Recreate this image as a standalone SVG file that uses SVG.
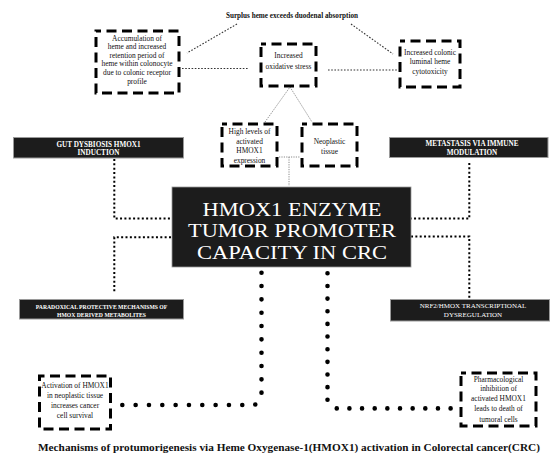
<svg xmlns="http://www.w3.org/2000/svg" width="550" height="453" viewBox="0 0 550 453">
<style>
  text { font-family: "Liberation Serif", "Times New Roman", serif; fill: #111; }
  .bt { font-size: 7.4px; text-anchor: middle; }
  .dash { fill: #fff; stroke: #000; stroke-width: 3; stroke-dasharray: 10 5.5; stroke-dashoffset: 5; }
  .dark { fill: #1c1c1c; stroke: #9a9a9a; stroke-width: 1; }
  .lt { fill: #fff; font-weight: bold; font-size: 7.2px; text-anchor: middle; }
  .main { fill: #fff; font-size: 19.5px; text-anchor: middle; }
  .thin { fill: none; stroke: #333; stroke-width: 1.1; stroke-dasharray: 1.6 1.6; }
  .thin2 { fill: none; stroke: #8a8a8a; stroke-width: 1; stroke-dasharray: 1.2 1.2; }
  .sq { fill: none; stroke: #000; stroke-width: 2; stroke-dasharray: 2 2.35; }
  .big { fill: none; stroke: #000; stroke-width: 4.6; stroke-linecap: round; }
</style>
<rect width="550" height="453" fill="#fff"/>

<g id="connectors">
  <path class="thin" d="M237,24 L187,53"/>
  <path class="thin" d="M182,68.5 H248"/>
  <path class="thin" d="M328,70 H397"/>
  <path class="thin" d="M351,24 L393,54"/>
  <path class="thin2" d="M265,122 L290,87 L312,122"/>
  <path class="thin2" d="M279,157 H300 M289,157 V186"/>
  <path class="sq" d="M114.3,159 V218.5 H171"/>
  <path class="sq" d="M171,237.3 H114.3 V293"/>
  <path class="sq" d="M469.3,163 V218.5 H411"/>
  <path class="sq" d="M411,236.5 H469.3 V298"/>
  <path class="big" stroke-dasharray="0 13.33" d="M261.5,272.7 V392.7 L255,405 H115"/>
  <path class="big" stroke-dasharray="0 12.65" d="M327.5,273.3 V399.8 L336.7,408.4 H452"/>
</g>

<g id="surplus">
  <text x="292" y="17.5" style="font-size:7.2px;font-weight:bold;text-anchor:middle">Surplus heme exceeds duodenal absorption</text>
</g>

<g id="accumulation">
  <rect class="dash" x="96" y="31" width="83" height="62"/>
  <text class="bt" x="137" y="40.8">Accumulation of</text>
  <text class="bt" x="137" y="49.3">heme and increased</text>
  <text class="bt" x="137" y="57.8">retention period of</text>
  <text class="bt" x="137" y="66.3">heme within colonocyte</text>
  <text class="bt" x="137" y="74.8">due to colonic receptor</text>
  <text class="bt" x="137" y="83.6">profile</text>
</g>

<g id="oxidative">
  <rect class="dash" x="261" y="44" width="55" height="42"/>
  <text class="bt" x="288.5" y="57.5">Increased</text>
  <text class="bt" x="288.5" y="68.5">oxidative stress</text>
</g>

<g id="colonic">
  <rect class="dash" x="400" y="41" width="60" height="46"/>
  <text class="bt" x="430" y="54.8">Increased colonic</text>
  <text class="bt" x="430" y="64.3">luminal heme</text>
  <text class="bt" x="430" y="73.8">cytotoxicity</text>
</g>

<g id="high-levels">
  <rect class="dash" x="222" y="124" width="55" height="42"/>
  <text class="bt" x="249.5" y="134.3">High levels of</text>
  <text class="bt" x="249.5" y="144.2">activated</text>
  <text class="bt" x="249.5" y="153.3">HMOX1</text>
  <text class="bt" x="249.5" y="163.2">expression</text>
</g>

<g id="neoplastic">
  <rect class="dash" x="302" y="124" width="55" height="42"/>
  <text class="bt" x="329.5" y="143.5">Neoplastic</text>
  <text class="bt" x="329.5" y="153.5">tissue</text>
</g>

<g id="gut-dysbiosis">
  <rect class="dark" x="13.5" y="137.5" width="170" height="20.5"/>
  <text class="lt" x="98.5" y="146.6">GUT DYSBIOSIS HMOX1</text>
  <text class="lt" x="98.5" y="155.4">INDUCTION</text>
</g>

<g id="metastasis">
  <rect class="dark" x="389.5" y="137.5" width="158.5" height="20"/>
  <text class="lt" x="472" y="146">METASTASIS VIA IMMUNE</text>
  <text class="lt" x="472" y="154.8">MODULATION</text>
</g>

<g id="main">
  <rect x="172" y="187" width="239" height="80" fill="#1c1c1c" stroke="#999" stroke-width="0.8"/>
  <text class="main" x="292" y="215.5" textLength="179" lengthAdjust="spacingAndGlyphs">HMOX1 ENZYME</text>
  <text class="main" x="292" y="237.2" textLength="208" lengthAdjust="spacingAndGlyphs">TUMOR PROMOTER</text>
  <text class="main" x="292" y="258.9" textLength="190" lengthAdjust="spacingAndGlyphs">CAPACITY IN CRC</text>
</g>

<g id="paradoxical">
  <rect class="dark" x="19.5" y="299.5" width="164" height="19.5"/>
  <text class="lt" x="101.5" y="309.2" style="font-size:5.7px">PARADOXICAL PROTECTIVE MECHANISMS OF</text>
  <text class="lt" x="101.5" y="316.6" style="font-size:5.7px">HMOX DERIVED METABOLITES</text>
</g>

<g id="nrf2">
  <rect class="dark" x="390.5" y="299.5" width="159" height="21.5"/>
  <text class="lt" x="473" y="307.8" style="font-weight:normal;font-size:7px">NRF2/HMOX TRANSCRIPTIONAL</text>
  <text class="lt" x="473" y="316.8" style="font-weight:normal;font-size:7px">DYSREGULATION</text>
</g>

<g id="activation">
  <rect class="dash" x="39.5" y="376" width="71" height="53"/>
  <text class="bt" x="75" y="387.5">Activation of HMOX1</text>
  <text class="bt" x="75" y="398">in neoplastic tissue</text>
  <text class="bt" x="75" y="408">increases cancer</text>
  <text class="bt" x="75" y="418.3">cell survival</text>
</g>

<g id="pharmacological">
  <rect class="dash" x="461" y="373" width="75" height="53"/>
  <text class="bt" x="498.5" y="381.5">Pharmacological</text>
  <text class="bt" x="498.5" y="390.8">inhibition of</text>
  <text class="bt" x="498.5" y="400.8">activated HMOX1</text>
  <text class="bt" x="498.5" y="411.3">leads to death of</text>
  <text class="bt" x="498.5" y="421.6">tumoral cells</text>
</g>

<g id="caption">
  <text x="289" y="451" style="font-size:10.3px;font-weight:bold;text-anchor:middle" textLength="502" lengthAdjust="spacingAndGlyphs">Mechanisms of protumorigenesis via Heme Oxygenase-1(HMOX1) activation in Colorectal cancer(CRC)</text>
</g>
</svg>
